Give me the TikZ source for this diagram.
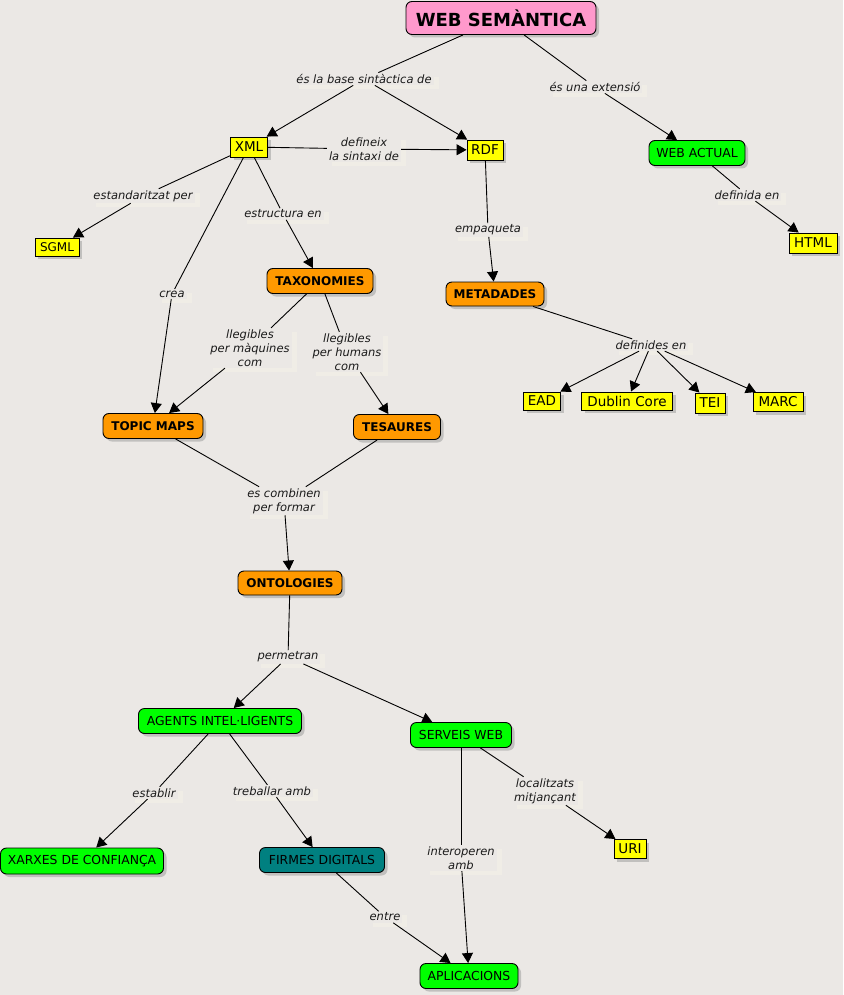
\documentclass[tikz,border=0pt]{standalone}
\usepackage{fontspec}
\setmainfont{DejaVu Sans}
\usetikzlibrary{arrows.meta,shadows}
\definecolor{bgc}{HTML}{EBE8E5}
\definecolor{labsh}{HTML}{F5F3E7}
\definecolor{pinkc}{HTML}{FF99CC}
\definecolor{yelc}{HTML}{FFFF00}
\definecolor{orc}{HTML}{FF9900}
\definecolor{grc}{HTML}{00FF00}
\definecolor{tealc}{HTML}{008080}
\definecolor{txtc}{HTML}{1A1A1A}
\tikzset{
  nbox/.style={draw=black, line width=0.9pt, inner sep=0pt, align=center, text=black,
    drop shadow={shadow xshift=3pt, shadow yshift=-3pt, fill=black!40}},
  yel/.style={nbox, fill=yelc, font=\fontsize{13.5}{16}\selectfont},
  orn/.style={nbox, fill=orc, rounded corners=6pt, font=\fontsize{12}{14}\selectfont\bfseries},
  grn/.style={nbox, fill=grc, rounded corners=6pt, font=\fontsize{12.4}{14}\selectfont},
  lbl/.style={fill=bgc, inner xsep=2pt, inner ysep=1.5pt, align=center, text=txtc,
    font=\fontsize{11.5}{14}\selectfont\itshape,
    drop shadow={shadow xshift=5pt, shadow yshift=-4pt, fill=labsh}},
  con/.style={draw=black, line width=0.9pt},
  arr/.style={con, -{Triangle[length=10pt,width=11pt]}},
}
\begin{document}
\begin{tikzpicture}[x=1pt,y=-1pt]
\useasboundingbox (0,0) rectangle (843,995);
\fill[bgc] (0,0) rectangle (843,995);

% concepts
\node[nbox, fill=pinkc, rounded corners=6pt, font=\fontsize{18}{20}\selectfont\bfseries,
  minimum width=190pt, minimum height=33pt] (web) at (501,18) {WEB SEMÀNTICA};
\node[yel, minimum width=37pt, minimum height=20pt] (xml) at (249,147) {XML};
\node[yel, minimum width=36pt, minimum height=20pt] (rdf) at (485,150) {RDF};
\node[grn, minimum width=96pt, minimum height=25pt] (wact) at (697,153) {WEB ACTUAL};
\node[yel, minimum width=48pt, minimum height=20pt] (html) at (813,243) {HTML};
\node[yel, font=\fontsize{12}{14}\selectfont, minimum width=44pt, minimum height=18pt] (sgml) at (57,247) {SGML};
\node[orn, minimum width=106pt, minimum height=25pt] (tax) at (320,281) {TAXONOMIES};
\node[orn, minimum width=98pt, minimum height=24pt] (meta) at (495,294) {METADADES};
\node[orn, minimum width=100pt, minimum height=25pt] (topic) at (153,426) {TOPIC MAPS};
\node[orn, minimum width=87pt, minimum height=25pt] (tes) at (397,427) {TESAURES};
\node[yel, minimum width=37pt, minimum height=18pt] (ead) at (542,401) {EAD};
\node[yel, minimum width=91pt, minimum height=18pt] (dub) at (627,401) {Dublin Core};
\node[yel, minimum width=30pt, minimum height=20pt] (tei) at (710,403) {TEI};
\node[yel, minimum width=50pt, minimum height=19pt] (marc) at (778,402) {MARC};
\node[orn, minimum width=104pt, minimum height=24pt] (onto) at (290,583) {ONTOLOGIES};
\node[grn, minimum width=163pt, minimum height=25pt] (agents) at (220,721) {AGENTS INTEL·LIGENTS};
\node[grn, minimum width=101pt, minimum height=25pt] (serv) at (461,735) {SERVEIS WEB};
\node[grn, minimum width=163pt, minimum height=26pt] (xarx) at (82,861) {XARXES DE CONFIANÇA};
\node[nbox, fill=tealc, rounded corners=6pt, font=\fontsize{12.4}{14}\selectfont,
  minimum width=125pt, minimum height=25pt] (firm) at (322,860) {FIRMES DIGITALS};
\node[yel, minimum width=32pt, minimum height=19pt] (uri) at (630,849) {URI};
\node[grn, minimum width=98pt, minimum height=25pt] (apl) at (469,976) {APLICACIONS};

% linking phrases
\node[lbl] (l1) at (364,79) {és la base sintàctica de};
\node[lbl] (l2) at (595,87) {és una extensió};
\node[lbl] (l3) at (364,149) {defineix\\la sintaxi de};
\node[lbl] (l4) at (143,196) {estandaritzat per};
\node[lbl] (l5) at (283,214) {estructura en};
\node[lbl] (l6) at (172,294) {crea};
\node[lbl] (l7) at (488,230) {empaqueta};
\node[lbl] (l8) at (747,195) {definida en};
\node[lbl] (l9) at (250,348) {llegibles\\per màquines\\com};
\node[lbl] (l10) at (347,352) {llegibles\\per humans\\com};
\node[lbl] (l11) at (651,345) {definides en};
\node[lbl] (l12) at (284,501) {es combinen\\per formar};
\node[lbl] (l13) at (288,657) {permetran};
\node[lbl] (l14) at (154,793) {establir};
\node[lbl] (l15) at (272,791) {treballar amb};
\node[lbl] (l16) at (545,791) {localitzats\\mitjançant};
\node[lbl] (l17) at (461,858) {interoperen\\amb};
\node[lbl] (l18) at (385,917) {entre};

% connectors
\draw[con] (web) -- (l1);
\draw[arr] (l1) -- (xml);
\draw[arr] (l1) -- (rdf);
\draw[con] (web) -- (l2);
\draw[arr] (l2) -- (wact);
\draw[con] (xml) -- (l3);
\draw[arr] (l3) -- (rdf);
\draw[con] (xml) -- (l4);
\draw[arr] (l4) -- (sgml);
\draw[con] (xml) -- (l5);
\draw[arr] (l5) -- (tax);
\draw[con] (xml) -- (l6);
\draw[arr] (l6) -- (topic);
\draw[con] (rdf) -- (l7);
\draw[arr] (l7) -- (meta);
\draw[con] (wact) -- (l8);
\draw[arr] (l8) -- (html);
\draw[con] (tax) -- (l9);
\draw[arr] (l9) -- (topic);
\draw[con] (tax) -- (l10);
\draw[arr] (l10) -- (tes);
\draw[con] (meta) -- (l11);
\draw[arr] (l11) -- (ead);
\draw[arr] (l11) -- (dub);
\draw[arr] (l11) -- (tei);
\draw[arr] (l11) -- (marc);
\draw[con] (topic) -- (l12);
\draw[con] (tes) -- (l12);
\draw[arr] (l12) -- (onto);
\draw[con] (onto) -- (l13);
\draw[arr] (l13) -- (agents);
\draw[arr] (l13) -- (serv);
\draw[con] (agents) -- (l14);
\draw[arr] (l14) -- (xarx);
\draw[con] (agents) -- (l15);
\draw[arr] (l15) -- (firm);
\draw[con] (serv) -- (l16);
\draw[arr] (l16) -- (uri);
\draw[con] (serv) -- (l17);
\draw[arr] (l17) -- (apl);
\draw[con] (firm) -- (l18);
\draw[arr] (l18) -- (apl);
\end{tikzpicture}
\end{document}
